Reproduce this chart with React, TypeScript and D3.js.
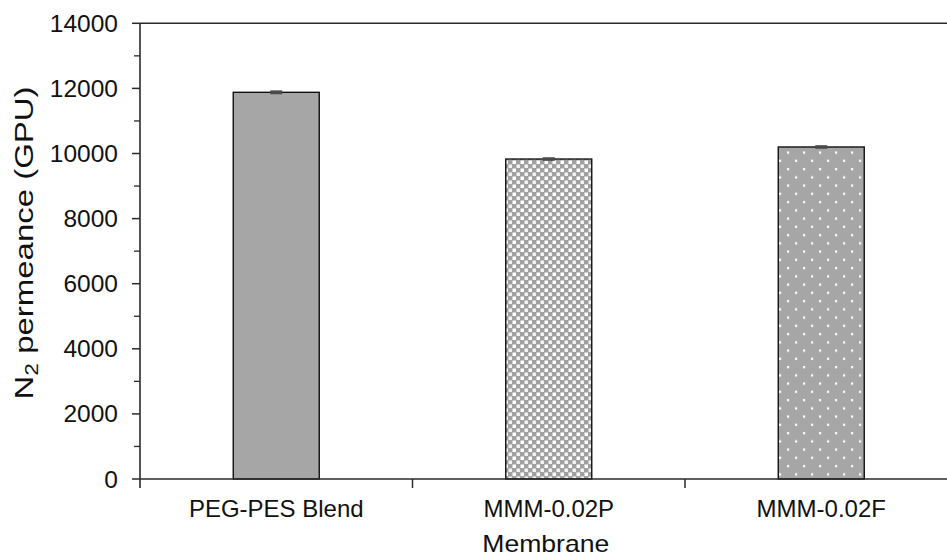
import React from "react";
import * as d3 from "d3";

const categories = ["PEG-PES Blend", "MMM-0.02P", "MMM-0.02F"];
const values = [11880, 9830, 10200];
const errors = [60, 55, 55];
const fills = ["solid", "squares", "dots"];
const majorTicks = [0, 2000, 4000, 6000, 8000, 10000, 12000, 14000];
const minorTicks = [1000, 3000, 5000, 7000, 9000, 11000, 13000];

const W = 947;
const H = 557;
const FONT = "'Liberation Sans', Arial, sans-serif";

export default function App() {
  const left = 140;
  const bandW = 272.5;
  const x = d3
    .scaleBand<string>()
    .domain(categories)
    .range([left, left + bandW * categories.length])
    .paddingInner(0)
    .paddingOuter(0);
  const y = d3.scaleLinear().domain([0, 14000]).range([479, 23.3]);
  const barW = 86;
  const axisColor = "#2a2a2a";
  const right = left + bandW * categories.length;

  const fillFor = (f: string) =>
    f === "solid" ? "#a6a6a6" : f === "squares" ? "url(#pSquares)" : "url(#pDots)";

  return (
    <svg
      width={W}
      height={H}
      style={{ position: "absolute", left: 0, top: 0, background: "#fff" }}
      fontFamily={FONT}
    >
      <defs>
        <pattern id="pSquares" patternUnits="userSpaceOnUse" width={8} height={8} x={0} y={0}>
          <rect width={8} height={8} fill="#a0a0a0" />
          <rect x={0.5} y={0.5} width={3.5} height={3.5} fill="#ffffff" />
          <rect x={4.5} y={4.5} width={3.5} height={3.5} fill="#f4f4f4" />
        </pattern>
        <pattern id="pDots" patternUnits="userSpaceOnUse" width={16} height={16.5} x={0} y={0}>
          <rect width={16} height={16.5} fill="#a6a6a6" />
          <rect x={3} y={3} width={2.2} height={2.2} fill="#ffffff" />
          <rect x={11} y={11.25} width={2.2} height={2.2} fill="#ffffff" />
        </pattern>
      </defs>

      {/* top frame line */}
      <line x1={left} x2={right} y1={y(14000)} y2={y(14000)} stroke={axisColor} strokeWidth={1.6} />

      {/* bars */}
      {categories.map((c, i) => {
        const cx = (x(c) as number) + x.bandwidth() / 2;
        const top = y(values[i]);
        return (
          <g key={c}>
            <rect
              x={cx - barW / 2}
              y={top}
              width={barW}
              height={y(0) - top}
              fill={fillFor(fills[i])}
              stroke="#111"
              strokeWidth={1.4}
            />
            <rect
              x={cx - 6}
              y={y(values[i] + errors[i])}
              width={12}
              height={y(values[i] - errors[i]) - y(values[i] + errors[i])}
              fill="#4a4a4a"
            />
          </g>
        );
      })}

      {/* y axis */}
      <line x1={left} x2={left} y1={y(14000)} y2={488} stroke={axisColor} strokeWidth={1.6} />
      {majorTicks.map((t) => (
        <g key={"mj" + t}>
          <line x1={left - 8} x2={left} y1={y(t)} y2={y(t)} stroke={axisColor} strokeWidth={1.5} />
          <text
            x={118}
            y={y(t)}
            dy="0.35em"
            textAnchor="end"
            fontSize={24.5}
            fill="#111"
          >
            {t}
          </text>
        </g>
      ))}
      {minorTicks.map((t) => (
        <line key={"mn" + t} x1={left - 6} x2={left} y1={y(t)} y2={y(t)} stroke={axisColor} strokeWidth={1.3} />
      ))}

      {/* x axis */}
      <line x1={left} x2={right} y1={y(0)} y2={y(0)} stroke={axisColor} strokeWidth={1.6} />
      {categories.map((c) => (
        <line
          key={"xt" + c}
          x1={(x(c) as number) + x.bandwidth()}
          x2={(x(c) as number) + x.bandwidth()}
          y1={y(0)}
          y2={488}
          stroke={axisColor}
          strokeWidth={1.5}
        />
      ))}
      {categories.map((c) => (
        <text
          key={"xl" + c}
          x={(x(c) as number) + x.bandwidth() / 2}
          y={517}
          textAnchor="middle"
          fontSize={24}
          fill="#111"
        >
          {c}
        </text>
      ))}

      {/* axis titles */}
      <text
        x={left + bandW * 1.5 - 3}
        y={552}
        textAnchor="middle"
        fontSize={24}
        textLength={127}
        lengthAdjust="spacingAndGlyphs"
        fill="#111"
      >
        Membrane
      </text>
      <text
        transform={`translate(33, 243) rotate(-90)`}
        textAnchor="middle"
        fontSize={26}
        fill="#111"
        textLength={313}
        lengthAdjust="spacingAndGlyphs"
      >
        N<tspan fontSize={18} dy={5}>2</tspan>
        <tspan dy={-5}> permeance (GPU)</tspan>
      </text>
    </svg>
  );
}
